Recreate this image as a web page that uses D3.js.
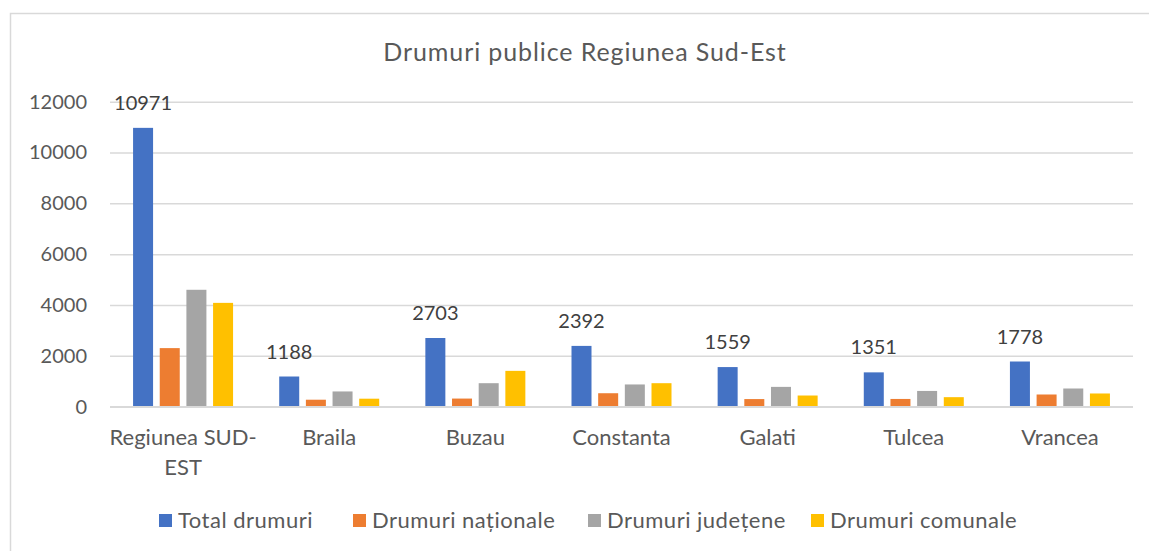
<!DOCTYPE html>
<html>
<head>
<meta charset="utf-8">
<script src="https://cdn.jsdelivr.net/npm/d3@7"></script>
<style>
  html, body { margin: 0; padding: 0; background: #fff; }
  svg { display: block; font-family: Lato, "Open Sans", sans-serif; }
</style>
</head>
<body>
<svg id="chart"></svg>
<script>
// data
const categories = ["Regiunea SUD-EST", "Braila", "Buzau", "Constanta", "Galati", "Tulcea", "Vrancea"];
const seriesNames = ["Total drumuri", "Drumuri naționale", "Drumuri județene", "Drumuri comunale"];
const totalDrumuri = [10971, 1188, 2703, 2392, 1559, 1351, 1778];
const drumuriNationale = [2305, 275, 320, 530, 300, 305, 480];
const drumuriJudetene = [4600, 600, 925, 875, 780, 620, 716];
const drumuriComunale = [4085, 315, 1410, 925, 440, 375, 520];
const yTicks = [0, 2000, 4000, 6000, 8000, 10000, 12000];
const colors = ["#4472C4", "#ED7D31", "#A5A5A5", "#FFC000"];

const seriesValues = [totalDrumuri, drumuriNationale, drumuriJudetene, drumuriComunale];

const width = 1149;
const height = 551;
const marginLeft = 110;
const marginRight = 16;
const marginTop = 101.7;
const baseY = 406.7;

const svg = d3.select("#chart")
    .attr("width", width)
    .attr("height", height)
    .attr("viewBox", [0, 0, width, height]);

svg.append("rect")
    .attr("width", width).attr("height", height).attr("fill", "#fff");

// chart border
svg.append("rect")
    .attr("x", 10.5).attr("y", 13.5)
    .attr("width", width + 10).attr("height", height + 10)
    .attr("fill", "none")
    .attr("stroke", "#d9d9d9")
    .attr("stroke-width", 1.5);

// title
svg.append("text")
    .attr("x", 585).attr("y", 61)
    .attr("text-anchor", "middle")
    .attr("fill", "#595959")
    .style("font-size", "25px")
    .style("letter-spacing", "0.9px")
    .text("Drumuri publice Regiunea Sud-Est");

const x0 = d3.scaleBand()
    .domain(categories)
    .range([marginLeft, width - marginRight])
    .padding(0);

const groupW = 100;
const x1 = d3.scaleBand()
    .domain(d3.range(seriesNames.length))
    .range([(x0.bandwidth() - groupW) / 2, (x0.bandwidth() + groupW) / 2])
    .paddingInner(0.25)
    .paddingOuter(0);

const y = d3.scaleLinear()
    .domain([0, 12000])
    .range([baseY, marginTop]);

// gridlines + y labels
const yAxis = d3.axisLeft(y).tickValues(yTicks).tickFormat(d3.format("d")).tickSize(0).tickPadding(0);
svg.append("g")
    .attr("transform", `translate(${marginLeft},0)`)
    .call(yAxis)
    .call(g => g.select(".domain").remove())
    .call(g => g.selectAll(".tick line").clone()
        .attr("stroke", "#d9d9d9")
        .attr("stroke-width", 1.5)
        .attr("x2", width - marginRight - marginLeft))
    .call(g => g.selectAll(".tick text")
        .attr("x", -23)
        .attr("fill", "#595959")
        .style("font-size", "20px")
        .style("font-family", "Lato, sans-serif"));

// bars
const groups = svg.append("g")
    .selectAll("g")
    .data(categories)
    .join("g")
    .attr("transform", d => `translate(${x0(d)},0)`);

groups.selectAll("rect")
    .data((d, i) => seriesValues.map((s, k) => ({ k, v: s[i] })))
    .join("rect")
    .attr("x", d => x1(d.k))
    .attr("width", x1.bandwidth())
    .attr("y", d => y(d.v))
    .attr("height", d => baseY - y(d.v))
    .attr("fill", d => colors[d.k]);

// data labels on total series
groups.append("text")
    .attr("x", x1(0) + x1.bandwidth() / 2)
    .attr("y", (d, i) => y(totalDrumuri[i]) - 18)
    .attr("text-anchor", "middle")
    .attr("fill", "#404040")
    .style("font-size", "20px")
    .text((d, i) => totalDrumuri[i]);

// x axis line
svg.append("line")
    .attr("x1", marginLeft).attr("x2", width - marginRight)
    .attr("y1", baseY).attr("y2", baseY)
    .attr("stroke", "#d9d9d9").attr("stroke-width", 1.5);

// category labels (first one wraps like Excel)
const catLines = { "Regiunea SUD-EST": ["Regiunea SUD-", "EST"] };
groups.append("text")
    .attr("text-anchor", "middle")
    .attr("fill", "#595959")
    .style("font-size", "22px")
    .selectAll("tspan")
    .data(d => catLines[d] || [d])
    .join("tspan")
    .attr("x", x0.bandwidth() / 2)
    .attr("y", (d, i) => 445 + i * 29.5)
    .text(d => d);

// legend
const legendX = [159, 353, 588, 811];
const legend = svg.append("g")
    .selectAll("g")
    .data(seriesNames)
    .join("g")
    .attr("transform", (d, i) => `translate(${legendX[i]},514)`);
legend.append("rect")
    .attr("width", 13).attr("height", 13)
    .attr("fill", (d, i) => colors[i]);
legend.append("text")
    .attr("x", 19).attr("y", 14)
    .attr("fill", "#595959")
    .style("font-size", "22px")
    .style("letter-spacing", "0.5px")
    .text(d => d);
</script>
</body>
</html>
